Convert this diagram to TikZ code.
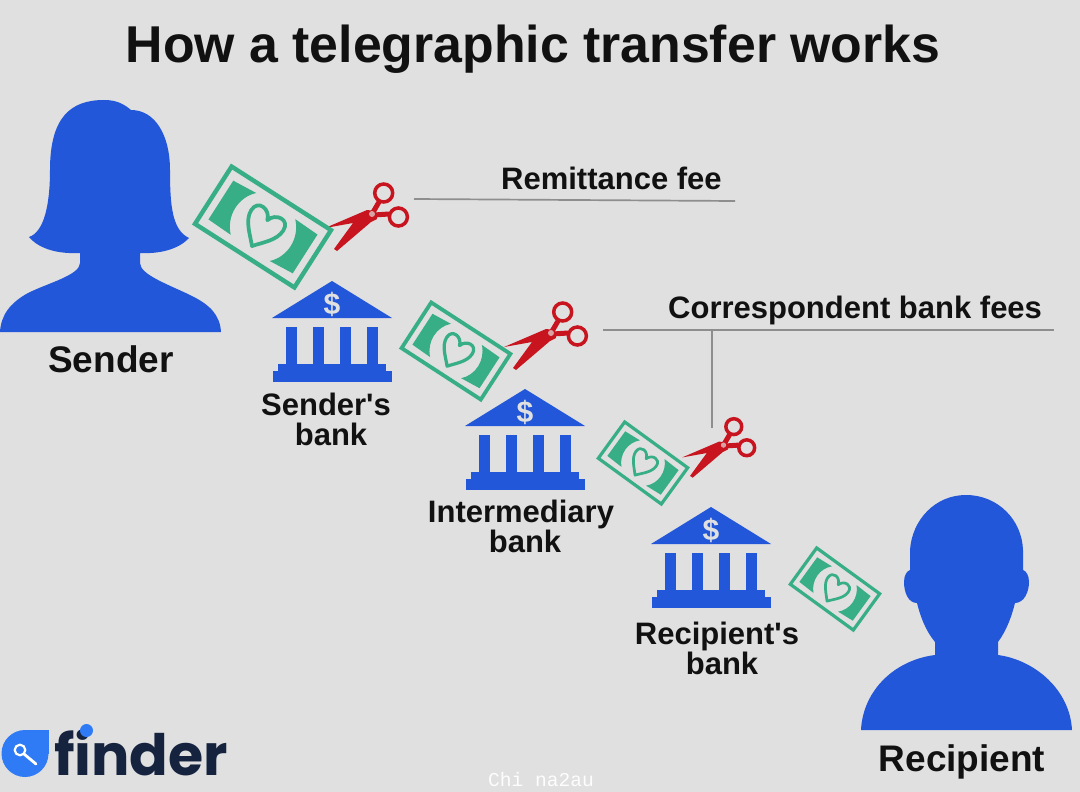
\documentclass[tikz,border=0pt]{standalone}
\usepackage{fontspec}
\newfontfamily\labelfont{Liberation Sans}
\newfontfamily\logofont{Poppins}
\newfontfamily\markfont{Liberation Mono}
\definecolor{pagebg}{HTML}{E0E0E0}
\definecolor{figblue}{HTML}{2257D9}
\definecolor{billgreen}{HTML}{38AE87}
\definecolor{cutred}{HTML}{C8141E}
\definecolor{inkdark}{HTML}{111111}
\definecolor{rulegray}{HTML}{8E8E8E}
\definecolor{logonavy}{HTML}{15233F}
\definecolor{logoblue}{HTML}{2F7BF6}
\tikzset{
  label/.style={font=\labelfont\bfseries\fontsize{#1}{30}\selectfont,text=inkdark,inner sep=0pt,align=center},
  label/.default=31,
  ruleline/.style={draw=rulegray,line width=1.7pt},
  pics/bill/.style={code={
    \draw[billgreen,fill=pagebg,line width=#1 pt,line join=miter] (-59,-34) rectangle (59,34);
    \fill[billgreen] (-50,-23) -- (-24,-25) .. controls (-37,-12) and (-37,10) .. (-23,24) -- (-50,23) -- cycle;
    \fill[billgreen] (50,-23) -- (23,-24) .. controls (37,-10) and (37,12) .. (24,25) -- (50,23) -- cycle;
    \draw[billgreen,line width=0.85*#1 pt,line join=round] (0,-8) .. controls (3,-19) and (19,-21) .. (19,-8) .. controls (19,4) and (8,13) .. (1,22) .. controls (-7,13) and (-19,4) .. (-19,-8) .. controls (-19,-21) and (-3,-19) .. cycle;
  }},
  pics/bank/.style={code={
    \fill[figblue] (0,0) -- (60,37) -- (-60,37) -- cycle;
    \node[font=\labelfont\bfseries\fontsize{30}{30}\selectfont,text=pagebg,inner sep=0pt] at (0,23) {\$};
    \foreach \a/\b in {-46/-35,-19.5/-8,8/19,34.5/46}
      \fill[figblue] (\a,45.5) rectangle (\b,84);
    \fill[figblue] (-54,83) rectangle (54,90);
    \fill[figblue] (-59.5,89.5) rectangle (59.5,100.5);
  }},
  pics/shears/.style={code={
    \fill[cutred,line join=round] (-47,13) -- (-5,-5) -- (4,-4) -- (5,4) -- (-1,7) -- (-35,36) -- (-38,34) -- (-19,8) -- cycle;
    \draw[cutred,line width=5pt] (0,-1) -- (7,-13);
    \draw[cutred,line width=5pt] (2,0) -- (17,-1);
    \draw[cutred,line width=3.5pt] (11.7,-22) circle (9);
    \draw[cutred,line width=3.5pt] (26.4,2) circle (9);
    \fill[pagebg!70!cutred] (0,-1) circle (3);
  }}
}
\begin{document}
\begin{tikzpicture}[x=1pt,y=-1pt]
\useasboundingbox (0,0) rectangle (1080,792);
\fill[pagebg] (0,0) rectangle (1080,792);
% connectors
\coordinate (remA) at (414,199);
\coordinate (remB) at (735,201);
\coordinate (corA) at (603,330);
\coordinate (corB) at (1054,330);
\coordinate (corJ) at (712,330);
\coordinate (corC) at (712,428);
\draw[ruleline] (remA) -- (remB);
\draw[ruleline] (corA) -- (corB);
\draw[ruleline] (corJ) -- (corC);
% title
\node[label=51.8,anchor=base] (title) at (533,63) {How a telegraphic transfer works};
% sender
\fill[figblue] (0,332) .. controls (1,315) and (10,303) .. (28,293)
  .. controls (48,283) and (80,275) .. (80,263) -- (80,253)
  .. controls (60,254) and (40,250) .. (29,237)
  .. controls (44,232) and (50,205) .. (50,170)
  .. controls (50,118) and (70,100) .. (104,100)
  .. controls (118,100) and (125,105) .. (131,110)
  .. controls (155,110) and (170,135) .. (170,170)
  .. controls (170,205) and (172,230) .. (189,238)
  .. controls (178,250) and (158,254) .. (140,253) -- (140,263)
  .. controls (140,275) and (170,285) .. (192,296)
  .. controls (210,305) and (220,315) .. (221,332) -- cycle;
% recipient
\fill[figblue] (861,730) .. controls (863,690) and (895,660) .. (935,655) -- (935,642)
  .. controls (925,630) and (920,615) .. (917,603)
  .. controls (908,603) and (904,592) .. (904,582)
  .. controls (904,575) and (907,571) .. (910,570) -- (910,550)
  .. controls (912,520) and (935,495) .. (966,495)
  .. controls (998,495) and (1022,520) .. (1023,550) -- (1023,570)
  .. controls (1026,571) and (1029,575) .. (1029,582)
  .. controls (1029,592) and (1024,603) .. (1015,603)
  .. controls (1012,615) and (1007,630) .. (998,642) -- (998,655)
  .. controls (1035,660) and (1070,690) .. (1072,730) -- cycle;
% scissors
\pic[shift={(372,215)}] {shears};
\pic[shift={(551,334)}] {shears};
\pic[shift={(723.5,446)},scale=0.88] {shears};
% bills
\pic[shift={(263,227)},rotate=-32.6] {bill=4.4};
\pic[shift={(456,351)},rotate=-33,scale=0.80] {bill=3.8};
\pic[shift={(643,463)},rotate=-36,scale=0.66] {bill=3.2};
\pic[shift={(835,589)},rotate=-36,scale=0.66] {bill=3.2};
% banks
\pic[shift={(332,281)}] {bank};
\pic[shift={(525,389)}] {bank};
\pic[shift={(711,507)}] {bank};
% labels
\node[label=37,anchor=base] (sender) at (111,372) {Sender};
\node[label=37,anchor=base] (recipient) at (962,771) {Recipient};
\node[label] (sbank) at (326,419) {Sender's\\\hspace{10pt}bank};
\node[label] (ibank) at (521,526) {Intermediary\\\hspace{8pt}bank};
\node[label] (rbank) at (717,648) {Recipient's\\\hspace{10pt}bank};
\node[label,anchor=base west] (remit) at (501,189) {Remittance fee};
\node[label,anchor=base west] (corr) at (668,318) {Correspondent bank fees};
% logo
\fill[logoblue] (25,753.5) circle (23.5);
\fill[logoblue] (25,730) rectangle (48.5,753.5);
\draw[white,line width=2.2pt] (20,750) circle (5.3);
\draw[white,line width=2.8pt,line cap=round] (24,754) -- (36,764);
\node[font=\logofont\bfseries\fontsize{57}{57}\selectfont,text=logonavy,anchor=base west,inner sep=0pt] (logo) at (54,775) {finder};
\fill[logoblue] (86.5,730.5) circle (6.5);
% watermark
\node[font=\markfont\fontsize{19.6}{20}\selectfont,text=white!95!pagebg,inner sep=0pt,anchor=base] (mark) at (541,786) {Chi na2au};
\end{tikzpicture}
\end{document}
